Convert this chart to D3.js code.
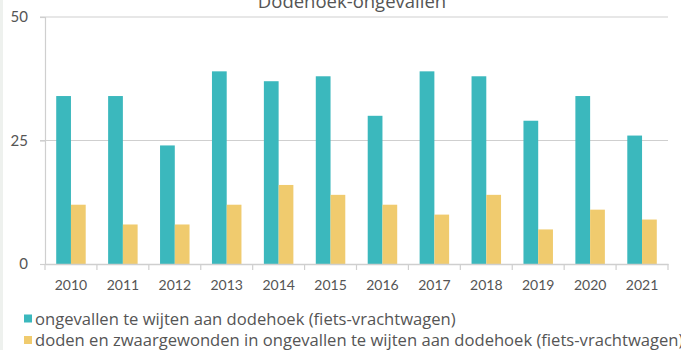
<!DOCTYPE html>
<html>
<head>
<meta charset="utf-8">
<script src="https://cdn.jsdelivr.net/npm/d3@7"></script>
<style>
  html, body { margin: 0; padding: 0; background: #fff; }
  svg { display: block; }
  text { font-family: Lato, "Open Sans", sans-serif; fill: #555; }
</style>
</head>
<body>
<script>
// Dodehoek-ongevallen per jaar
const years = ["2010","2011","2012","2013","2014","2015","2016","2017","2018","2019","2020","2021"];
const ongevallen = [34, 34, 24, 39, 37, 38, 30, 39, 38, 29, 34, 26];
const dodenZwaargewonden = [12, 8, 8, 12, 16, 14, 12, 10, 14, 7, 11, 9];
const yTicks = [0, 25, 50];
const seriesNames = [
  "ongevallen te wijten aan dodehoek (fiets-vrachtwagen)",
  "doden en zwaargewonden in ongevallen te wijten aan dodehoek (fiets-vrachtwagen)"
];
const colors = ["#3bb8bd", "#f0cb6e"];

const W = 681, H = 350;
const margin = { left: 45, right: 13, top: 17, bottom: 86 };

const svg = d3.select("body").append("svg").attr("width", W).attr("height", H);

// faint page edge on the left
svg.append("rect").attr("x", 0).attr("y", 0).attr("width", 3).attr("height", H).attr("fill", "#eef1ee");

const x = d3.scaleBand().domain(years).range([margin.left, W - margin.right]).padding(0);
const y = d3.scaleLinear().domain([0, 50]).range([H - margin.bottom, margin.top]);
const sub = d3.scaleBand().domain([0, 1]).range([0, x.bandwidth()]).paddingOuter(0.76).paddingInner(0);

// title
svg.append("text").attr("x", 352).attr("y", 8).attr("text-anchor", "middle")
  .style("font-family", "'Open Sans', sans-serif")
  .style("font-size", "18.5px").text("Dodehoek-ongevallen");

// grid lines
svg.append("g").selectAll("line").data(yTicks.filter(d => d > 0)).join("line")
  .attr("x1", margin.left - 5).attr("x2", W - margin.right)
  .attr("y1", d => y(d)).attr("y2", d => y(d))
  .attr("stroke", "#cfcfcf").attr("stroke-width", 1.2);

// y axis
const yAxis = svg.append("g").attr("transform", `translate(${margin.left},0)`)
  .call(d3.axisLeft(y).tickValues(yTicks).tickSize(5).tickPadding(12));
yAxis.select(".domain").attr("stroke", "#cfcfcf").attr("stroke-width", 1.2);
yAxis.selectAll(".tick line").attr("stroke", "#cfcfcf").attr("stroke-width", 1.2);
yAxis.selectAll(".tick text").style("font-size", "15px").attr("fill", "#555");

// bars
const data = years.map((yr, i) => ({ yr, vals: [ongevallen[i], dodenZwaargewonden[i]] }));
const groups = svg.append("g").selectAll("g").data(data).join("g")
  .attr("transform", d => `translate(${x(d.yr)},0)`);
groups.selectAll("rect").data(d => d.vals.map((v, k) => ({ v, k }))).join("rect")
  .attr("x", d => sub(d.k))
  .attr("width", sub.bandwidth())
  .attr("y", d => y(d.v))
  .attr("height", d => y(0) - y(d.v))
  .attr("fill", d => colors[d.k]);

// x axis
const xAxis = svg.append("g").attr("transform", `translate(0,${y(0)})`)
  .call(d3.axisBottom(x).tickSize(0).tickPadding(16));
xAxis.select(".domain").attr("stroke", "#cfcfcf").attr("stroke-width", 1.5);
xAxis.selectAll(".tick text").style("font-size", "14px").attr("fill", "#444");
// boundary ticks between years
svg.append("g").selectAll("line").data(d3.range(years.length + 1)).join("line")
  .attr("x1", i => margin.left + i * x.bandwidth()).attr("x2", i => margin.left + i * x.bandwidth())
  .attr("y1", y(0)).attr("y2", y(0) + 6)
  .attr("stroke", "#cfcfcf").attr("stroke-width", 1.2);

// legend
const legend = svg.append("g").selectAll("g").data(seriesNames).join("g")
  .attr("transform", (d, i) => `translate(24,${319 + i * 21.5})`);
legend.append("rect").attr("x", 0).attr("y", -4.5).attr("width", 8).attr("height", 8)
  .attr("fill", (d, i) => colors[i]);
legend.append("text").attr("x", 11).attr("y", 0).attr("dy", "0.35em")
  .style("font-family", "'Open Sans', sans-serif")
  .style("font-size", "16.6px").attr("fill", "#444").text(d => d);
</script>
</body>
</html>
